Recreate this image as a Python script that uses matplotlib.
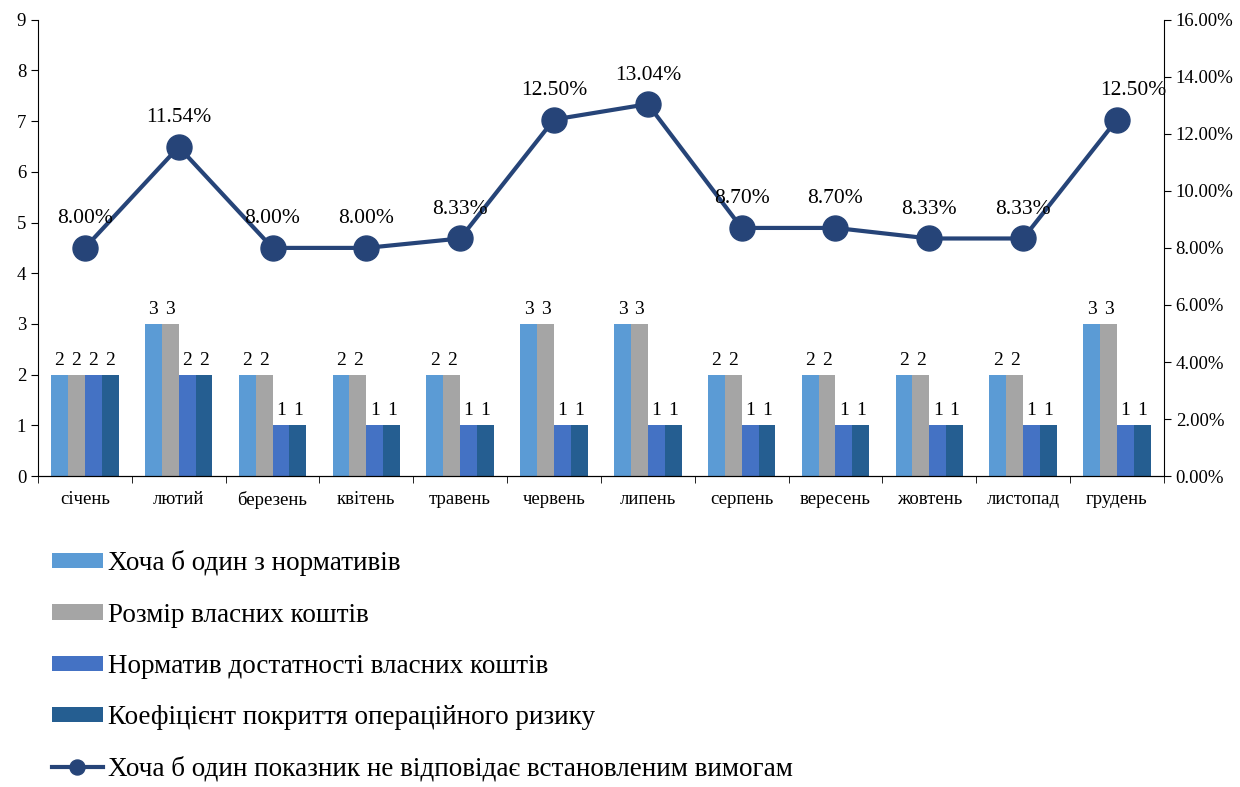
import numpy as np
import matplotlib.pyplot as plt
from matplotlib.ticker import FuncFormatter, MultipleLocator

plt.rcParams['font.family'] = ['Liberation Serif', 'DejaVu Serif']

months = ["січень", "лютий", "березень", "квітень", "травень", "червень",
          "липень", "серпень", "вересень", "жовтень", "листопад", "грудень"]
any_norm = [2, 3, 2, 2, 2, 3, 3, 2, 2, 2, 2, 3]
own_funds = [2, 3, 2, 2, 2, 3, 3, 2, 2, 2, 2, 3]
adequacy = [2, 2, 1, 1, 1, 1, 1, 1, 1, 1, 1, 1]
op_risk = [2, 2, 1, 1, 1, 1, 1, 1, 1, 1, 1, 1]
share_pct = [8.00, 11.54, 8.00, 8.00, 8.33, 12.50, 13.04, 8.70, 8.70, 8.33, 8.33, 12.50]

series = [
    ("Хоча б один з нормативів", any_norm, "#5B9BD5"),
    ("Розмір власних коштів", own_funds, "#A5A5A5"),
    ("Норматив достатності власних коштів", adequacy, "#4472C4"),
    ("Коефіцієнт покриття операційного ризику", op_risk, "#255E91"),
]
line_label = "Хоча б один показник не відповідає встановленим вимогам"
line_color = "#264478"

fig = plt.figure(figsize=(12.4, 7.87), dpi=100)
ax = fig.add_axes([0.0306, 0.395, 0.908, 0.58])
ax2 = ax.twinx()

x = np.arange(len(months))
w = 0.18
handles = []
for i, (name, vals, col) in enumerate(series):
    pos = x + (i - 1.5) * w
    b = ax.bar(pos, vals, w, color=col, label=name, zorder=2)
    handles.append(b)
    for p, v in zip(pos, vals):
        ax.text(p, v + 0.12, str(v), ha="center", va="bottom", fontsize=14)

ax.set_xlim(-0.5, len(months) - 0.5)
ax.set_ylim(0, 9)
ax.yaxis.set_major_locator(MultipleLocator(1))
ax.set_xticks(x)
ax.set_xticklabels(months, fontsize=13.5)
ax.set_xticks(np.arange(-0.5, len(months)), minor=True)
ax.tick_params(axis="x", which="major", length=0, pad=11)
ax.tick_params(axis="x", which="minor", length=5)
ax.tick_params(axis="y", labelsize=13.5, length=5)
for s in ["top", "right"]:
    ax.spines[s].set_visible(False)
for s in ["top", "left"]:
    ax2.spines[s].set_visible(False)

share = np.array(share_pct) / 100
ln, = ax2.plot(x, share, color=line_color, lw=3, marker="o", ms=18, zorder=3)
for k, (xi, v) in enumerate(zip(x, share_pct)):
    dx = 12 if k == len(x) - 1 else 0
    ax2.annotate(f"{v:.2f}%", (xi, v / 100), xytext=(dx, 14), textcoords="offset points",
                 ha="center", va="bottom", fontsize=15.5)
ax2.set_ylim(0, 0.16)
ax2.yaxis.set_major_locator(MultipleLocator(0.02))
ax2.yaxis.set_major_formatter(FuncFormatter(lambda v, _: f"{v * 100:.2f}%"))
ax2.tick_params(axis="y", labelsize=13.5, length=5)

fig.legend(handles + [ln], [s[0] for s in series] + [line_label],
           loc="upper left", bbox_to_anchor=(0.035, 0.311), frameon=False,
           fontsize=19.5, handlelength=1.9, handleheight=0.5, handletextpad=0.2,
           labelspacing=0.97, borderpad=0.3, borderaxespad=0, markerscale=0.6)

fig.savefig("out.png", dpi=100)
